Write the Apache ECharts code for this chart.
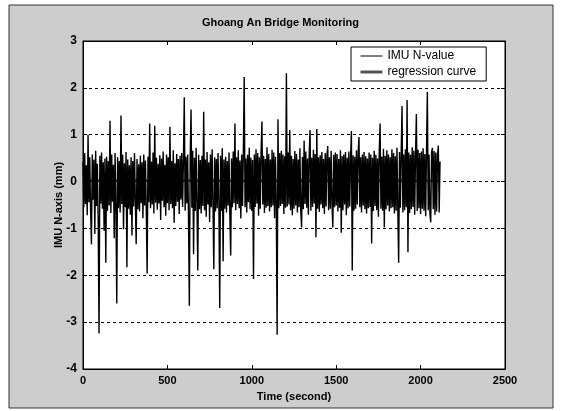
<!DOCTYPE html>
<html>
<head>
<meta charset="utf-8">
<script src="https://cdn.jsdelivr.net/npm/echarts@6/dist/echarts.min.js"></script>
<style>
    html, body { margin: 0; padding: 0; background: #fff; }
    #chart { width: 561px; height: 411px; }
</style>
</head>
<body>
<div id="chart"></div>
<script>
const step = 5
const imuValues = [
    0.42,-0.55,0.61,-0.48,0.35,-0.72,1.00,-0.44,0.52,-0.61,-1.34,0.58,-0.39,0.47,-1.12,0.66,-0.52,0.38,-0.85,-3.24,
    0.55,-0.47,0.62,-0.58,0.41,-1.05,0.49,-1.73,0.53,-0.62,0.44,-0.51,1.30,-0.67,0.58,-0.43,0.36,-1.21,0.61,-0.49,
    -2.60,0.52,-0.57,0.44,-0.66,1.41,-0.48,0.57,-1.02,0.39,-0.55,0.63,-1.83,0.47,-0.58,0.35,-0.71,0.52,-1.15,0.44,
    -0.53,0.61,-0.42,-1.34,0.48,-0.59,0.37,-0.64,0.55,-0.46,0.41,-0.78,0.58,-0.51,0.45,-0.62,-1.96,0.53,-0.44,1.24,
    -0.57,0.43,-0.49,0.62,-0.68,1.19,-0.45,0.51,-0.60,0.38,-0.47,0.56,-0.82,0.49,-0.41,0.64,-0.55,0.36,-0.73,0.58,
    -0.46,0.52,-0.61,1.17,-0.48,0.44,-0.57,0.67,-0.88,0.39,-0.52,0.59,-0.43,0.48,-0.69,0.55,-0.38,0.61,-0.54,0.47,
    1.80,-0.62,0.53,-0.47,0.58,-0.79,-2.65,0.49,1.54,-0.56,0.66,-1.55,0.51,-0.63,0.72,-0.48,-1.90,0.57,-0.59,0.46,
    -0.68,0.55,-0.52,1.49,-0.61,0.47,-0.75,0.63,-0.49,0.41,-0.86,0.58,-0.55,0.69,-0.47,-1.87,0.52,-0.64,0.48,-0.57,
    0.61,-0.49,-2.70,0.55,-0.63,0.71,-1.70,0.47,-0.58,0.53,-0.66,0.44,-0.51,0.62,-0.72,-1.58,0.49,-0.55,0.64,-0.46,
    1.24,-0.61,0.52,-0.48,0.67,-0.57,0.45,-0.79,0.58,-0.52,0.63,2.23,-0.55,0.49,-0.66,0.57,-0.44,0.72,-0.59,0.51,
    -0.63,0.46,-2.08,0.58,-0.54,0.69,-0.47,0.61,-0.73,0.52,-0.58,0.64,1.28,-0.49,0.55,-0.67,0.48,-0.56,0.73,-0.52,
    0.59,-0.64,0.47,-0.55,0.68,-0.51,0.62,-0.78,0.53,-0.46,-3.27,1.33,-0.57,0.61,-0.52,0.66,-0.48,0.58,-0.69,0.54,
    -0.56,2.31,-0.53,0.62,-0.49,1.10,-0.61,0.55,-0.72,0.48,-0.58,0.65,-0.51,0.59,-0.66,0.47,-0.55,0.71,-0.62,-0.98,
    0.53,-0.59,0.87,-0.48,0.64,-0.56,0.49,-0.71,0.57,1.10,-0.62,0.51,-0.54,0.68,-0.47,0.59,-1.19,1.12,-0.58,0.52,
    -0.65,0.56,-0.49,0.63,-0.57,0.48,-0.69,0.61,-0.53,0.55,0.76,-0.61,0.52,-0.58,0.66,-0.47,-0.98,0.57,-0.55,0.62,
    -0.51,0.59,-0.64,0.48,-0.56,0.67,-1.09,0.54,-0.61,0.58,-0.49,0.63,-0.72,0.51,-0.57,0.64,-0.53,0.49,1.08,-1.90,
    0.56,-0.62,0.53,-0.58,0.67,-0.49,0.61,0.95,-0.55,0.52,-0.66,0.58,-0.51,0.63,-0.59,0.54,-0.68,0.49,-0.57,0.62,
    -0.54,0.58,-1.32,0.51,-0.63,0.66,-0.52,0.57,-0.61,0.49,-0.75,0.64,1.24,-0.58,0.53,-0.62,0.70,-0.98,0.55,-0.59,
    0.67,-0.51,0.58,-0.64,0.52,-0.57,0.69,-0.55,0.61,-0.68,0.54,-0.62,0.72,-0.58,-1.73,0.63,-0.56,0.59,1.61,-0.66,
    0.58,-0.61,0.69,-0.55,1.74,-1.51,0.62,-0.67,0.57,-0.59,0.73,-0.54,0.66,-0.71,0.59,1.44,-0.63,0.68,-0.57,0.61,
    -0.69,0.64,-0.58,0.71,-0.62,0.59,-0.74,0.66,1.91,-0.61,0.58,-0.67,-0.87,0.63,0.72,-0.59,0.65,-0.71,0.62,-0.64,
    0.58,0.77,-0.66,0.43
]
const regTimes = [0, 2115]
const regValues = [0.02, 0.02]
const xTicks = [0, 500, 1000, 1500, 2000, 2500]
const yTicks = [-4, -3, -2, -1, 0, 1, 2, 3]

let imuData = []
for (let i = 0; i < imuValues.length; i++) {
    imuData.push([i * step, imuValues[i]])
}
let regData = []
for (let i = 0; i < regTimes.length; i++) {
    regData.push([regTimes[i], regValues[i]])
}

const font = 'Liberation Sans, Arial, sans-serif'
let chart = echarts.init(document.getElementById('chart'))
let option = {
    animation: false,
    backgroundColor: '#fff',
    textStyle: { fontFamily: font },
    graphic: [{
        type: 'rect',
        z: -10,
        silent: true,
        shape: { x: 9, y: 5, width: 544, height: 403 },
        style: { fill: '#cdcdcd', stroke: '#333', lineWidth: 1 }
    }],
    title: {
        text: 'Ghoang An Bridge Monitoring',
        left: 'center',
        top: 12,
        textStyle: { fontSize: 11, fontWeight: 'bold', color: '#000', fontFamily: font }
    },
    legend: {
        orient: 'vertical',
        left: 351,
        top: 47,
        padding: [3, 10, 3, 8],
        itemWidth: 22,
        itemHeight: 12,
        itemGap: 4,
        backgroundColor: '#fff',
        borderColor: '#000',
        borderWidth: 1,
        borderRadius: 0,
        itemStyle: { opacity: 0 },
        textStyle: { fontSize: 12, color: '#000', fontFamily: font },
        data: [
            { name: 'IMU N-value', lineStyle: { width: 1, color: '#000' } },
            { name: 'regression curve', lineStyle: { width: 3, color: '#555' } }
        ]
    },
    grid: {
        left: 83, right: 56, top: 41, bottom: 42,
        show: true,
        backgroundColor: '#fff',
        borderColor: '#000',
        borderWidth: 1
    },
    xAxis: [{
        type: 'value',
        min: xTicks[0], max: xTicks[xTicks.length - 1], interval: 500,
        name: 'Time (second)',
        nameLocation: 'middle',
        nameGap: 22,
        nameMoveOverlap: false,
        nameTextStyle: { fontSize: 11, fontWeight: 'bold', color: '#000' },
        axisLine: { onZero: false, lineStyle: { color: '#000' } },
        axisTick: { inside: true, length: 4, lineStyle: { color: '#000' } },
        axisLabel: { fontSize: 11, fontWeight: 'bold', color: '#000', margin: 6, formatter: v => String(v) },
        splitLine: { show: false }
    }, {
        type: 'value', position: 'top',
        min: xTicks[0], max: xTicks[xTicks.length - 1], interval: 500,
        axisLine: { onZero: false, lineStyle: { color: '#000' } },
        axisTick: { inside: true, length: 4, lineStyle: { color: '#000' } },
        axisLabel: { show: false },
        splitLine: { show: false }
    }],
    yAxis: [{
        type: 'value',
        min: yTicks[0], max: yTicks[yTicks.length - 1], interval: 1,
        name: 'IMU N-axis (mm)',
        nameLocation: 'middle',
        nameGap: 19,
        nameMoveOverlap: false,
        nameTextStyle: { fontSize: 11, fontWeight: 'bold', color: '#000' },
        axisLine: { onZero: false, lineStyle: { color: '#000' } },
        axisTick: { inside: true, length: 4, lineStyle: { color: '#000' } },
        axisLabel: { fontSize: 12, fontWeight: 'bold', color: '#000', margin: 6 },
        splitLine: { lineStyle: { color: '#000', type: [3, 3], width: 1 } }
    }, {
        type: 'value', position: 'right',
        min: yTicks[0], max: yTicks[yTicks.length - 1], interval: 1,
        axisLine: { show: true, onZero: false, lineStyle: { color: '#000' } },
        axisTick: { show: true, inside: true, length: 4, lineStyle: { color: '#000' } },
        axisLabel: { show: false },
        splitLine: { show: false }
    }],
    series: [{
        name: 'IMU N-value',
        type: 'line',
        symbol: 'none',
        data: imuData,
        lineStyle: { color: '#000', width: 1.4 },
        itemStyle: { color: '#000' },
        z: 3
    }, {
        name: 'regression curve',
        type: 'line',
        symbol: 'none',
        data: regData,
        lineStyle: { color: '#444', width: 2.5 },
        itemStyle: { color: '#444' },
        z: 2
    }]
}
chart.setOption(option)
</script>
</body>
</html>
